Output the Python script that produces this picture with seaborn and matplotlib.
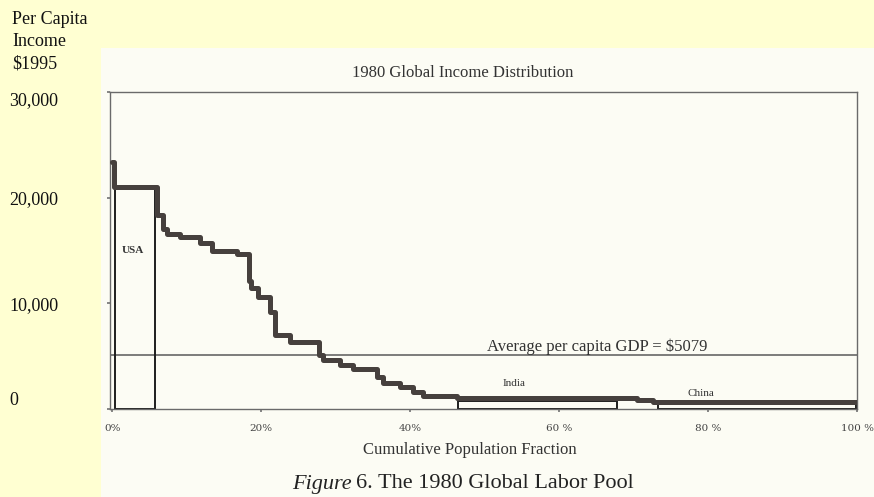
#!/usr/bin/env python
""" 1980 global income distribution, step chart """

import numpy as np
import pandas as pd
import seaborn as sns
import matplotlib
matplotlib.use('Agg')
import matplotlib.pyplot as plt
from matplotlib.patches import Rectangle

# Step curve: cumulative population (%) where each level starts, income ($1995)
pop_pct = [0.0, 0.3, 6.0, 6.8, 7.4, 9.1, 11.8, 13.4, 16.8, 18.3, 18.6, 19.6,
           21.2, 21.9, 23.9, 27.7, 28.3, 30.6, 32.3, 35.6, 36.4, 38.7, 40.4,
           41.7, 46.3, 67.8, 70.5, 72.6, 100.0]
income = [23400, 21000, 18400, 17000, 16600, 16300, 15700, 15000, 14700,
          12100, 11450, 10600, 9200, 7000, 6340, 5100, 4640, 4160, 3800,
          3000, 2460, 2080, 1600, 1250, 1000, 1000, 820, 650, 650]

# Country boxes
box_names = ['USA', 'India', 'China']
box_start = [0.4, 46.4, 73.3]
box_end = [5.8, 67.8, 99.9]
box_income = [21000, 750, 450]
box_label_x = [2.8, 54.0, 79.0]
box_label_y = [15000, 2400, 1450]

avg_gdp = 5079
y_ticks = [0, 10000, 20000, 30000]
y_ticklabels = ['0', '10,000', '20,000', '30,000']
x_ticks = [0, 20, 40, 60, 80, 100]
x_ticklabels = ['0%', '20%', '40%', '60 %', '80 %', '100 %']


def main():
    """ Main function """
    sns.set_theme(style="white")
    plt.rcParams['font.family'] = ['Liberation Serif', 'DejaVu Serif']

    df = pd.DataFrame({'pop': pop_pct, 'income': income})

    f = plt.figure(figsize=(8.74, 4.97), dpi=100, facecolor='#FFFFD2')
    # scanned-paper panel
    f.patches.append(Rectangle((101 / 874, 0), 1, 1 - 48 / 497,
                               transform=f.transFigure, facecolor='#FCFCF4',
                               edgecolor='none', zorder=-10))
    ax = f.add_axes([110 / 874, 1 - 409 / 497, 747 / 874, 317 / 497])
    ax.set_facecolor('none')

    # Country boxes
    widths = np.array(box_end) - np.array(box_start)
    ax.bar(box_start, box_income, width=widths, align='edge', fill=False,
           edgecolor='#1e1e1e', linewidth=1.4, zorder=2)
    for name, lx, ly in zip(box_names, box_label_x, box_label_y):
        ax.text(lx, ly, name, ha='center', va='center', fontsize=8,
                color='#333333', fontweight='bold' if name == 'USA' else 'normal')

    # Average line
    ax.axhline(avg_gdp, color='#5a5a5a', linewidth=1.1, zorder=1)
    ax.text(65.1, avg_gdp + 60, 'Average per capita GDP = $5079', ha='center',
            va='bottom', fontsize=12, color='#333333')

    # Income step curve
    sns.lineplot(data=df, x='pop', y='income', ax=ax, estimator=None,
                 sort=False, drawstyle='steps-post', color='#46403d',
                 linewidth=3.6, zorder=3)

    ax.set_xlim(-0.3, 100)
    ax.set_ylim(0, 30000)
    ax.set_xlabel('')
    ax.set_ylabel('')

    for sp in ax.spines.values():
        sp.set_color('#6a6a6a')
        sp.set_linewidth(1.0)

    ax.set_xticks(x_ticks)
    ax.set_xticklabels(x_ticklabels, fontsize=7.5, color='#444444',
                       family='DejaVu Serif')
    ax.tick_params(axis='x', length=2, pad=9, color='#777777', bottom=True)

    ax.set_yticks(y_ticks)
    ax.set_yticklabels(y_ticklabels, fontsize=13, color='#111111',
                       ha='left')
    ax.tick_params(axis='y', length=2, pad=70.5, color='#777777', left=True)
    ylabels = ax.get_yticklabels()
    ylabels[0].set_va('bottom')
    ylabels[-1].set_va('top')

    # Titles and labels
    ax.set_title('1980 Global Income Distribution', fontsize=12,
                 color='#333333', pad=11, x=(463 - 110) / 747)
    f.text(470 / 874, 1 - 450 / 497, 'Cumulative Population Fraction',
           ha='center', va='center', fontsize=12, color='#333333')
    f.text(352 / 874, 1 - 484 / 497, 'Figure', ha='right', va='center',
           fontsize=16, style='italic', color='#222222')
    f.text(356 / 874, 1 - 484 / 497, '6. The 1980 Global Labor Pool',
           ha='left', va='center', fontsize=16, color='#222222')

    for i, line in enumerate(['Per Capita', 'Income', '$1995']):
        f.text(12 / 874, 1 - (20 + 22 * i) / 497, line, ha='left',
               va='center', fontsize=13, color='#111111')

    plt.savefig('out.png', dpi=100, facecolor=f.get_facecolor())
    plt.close(f)


if __name__ == '__main__':
    main()
